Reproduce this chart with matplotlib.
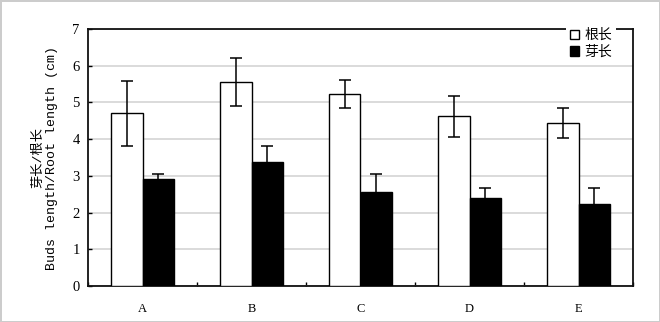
import numpy as np
import matplotlib.pyplot as plt
from matplotlib.patches import Patch

# data
groups = ['A', 'B', 'C', 'D', 'E']
root_len = [4.70, 5.55, 5.22, 4.62, 4.44]
root_err = [0.89, 0.66, 0.38, 0.55, 0.40]
bud_len = [2.92, 3.38, 2.55, 2.40, 2.23]
bud_err = [0.13, 0.42, 0.50, 0.28, 0.45]
y_ticks = [0, 1, 2, 3, 4, 5, 6, 7]

cjk = ['Liberation Serif', 'Noto Sans CJK SC']

fig = plt.figure(figsize=(6.6, 3.22), dpi=100)
fig.patch.set_edgecolor('#cccccc')
fig.patch.set_linewidth(2)
ax = fig.add_axes([88 / 660, 36 / 322, 545 / 660, 257 / 322])

x = np.arange(len(groups))
w = 0.285
ekw = dict(ecolor='black', elinewidth=1.1, capsize=4, capthick=1.1)
ax.bar(x - w / 2, root_len, w, yerr=root_err, color='white', edgecolor='black',
       linewidth=1.0, error_kw=ekw, zorder=3)
ax.bar(x + w / 2, bud_len, w, yerr=bud_err, color='black', edgecolor='black',
       linewidth=1.0, error_kw=ekw, zorder=3)

ax.set_xlim(-0.5, len(groups) - 0.5)
ax.set_ylim(0, 7)
ax.set_yticks(y_ticks)
ax.yaxis.grid(True, color='#d4d4d4', linewidth=1.2, zorder=0)
ax.set_axisbelow(True)

ax.set_xticks(x)
ax.set_xticklabels(groups, family='Liberation Serif', fontsize=9)
ax.set_xticks(np.arange(len(groups) + 1) - 0.5, minor=True)
ax.tick_params(axis='x', which='major', length=0, pad=12)
ax.tick_params(axis='x', which='minor', direction='in', length=3, width=1)
ax.tick_params(axis='y', direction='in', length=3, width=1, pad=6)
for lbl in ax.get_yticklabels():
    lbl.set_family('Liberation Serif')
    lbl.set_fontsize(10.5)

for s in ax.spines.values():
    s.set_linewidth(1.3)
    s.set_color('#111111')

ax.set_ylabel('芽长/根长\nBuds length/Root length (cm)',
              family=['Liberation Mono', 'Noto Sans CJK SC'], fontsize=9.5,
              linespacing=1.25, labelpad=10)

handles = [Patch(facecolor='white', edgecolor='black', linewidth=1.0),
           Patch(facecolor='black', edgecolor='black', linewidth=1.0)]
leg = ax.legend(handles, ['根长', '芽长'], loc='center',
                bbox_to_anchor=(591 / 660, (322 - 44) / 322),
                bbox_transform=fig.transFigure, prop={'family': cjk, 'size': 10},
                handlelength=0.65, handleheight=0.65, handletextpad=0.4,
                labelspacing=0.25, borderpad=0.3, frameon=True, fancybox=False,
                framealpha=1, edgecolor='none', facecolor='white')
leg.set_zorder(5)

fig.savefig('out.png', dpi=100)
